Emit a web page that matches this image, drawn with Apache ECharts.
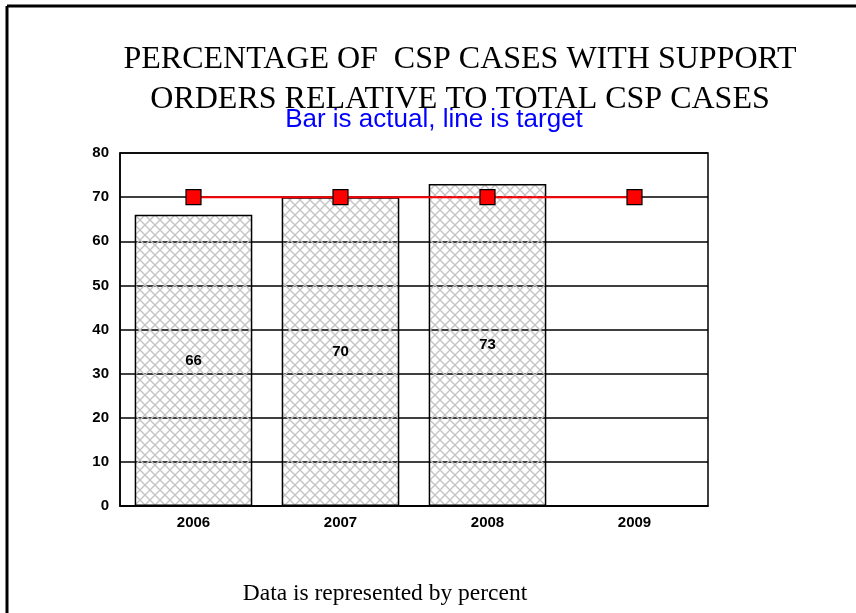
<!DOCTYPE html>
<html>
<head>
<meta charset="utf-8">
<script src="https://cdn.jsdelivr.net/npm/echarts@6/dist/echarts.min.js"></script>
<style>
  html, body { margin: 0; padding: 0; background: #fff; }
  #main { width: 856px; height: 613px; }
</style>
</head>
<body>
<div id="main"></div>
<script>
// data
const years = ['2006', '2007', '2008', '2009'];
const actual = [66, 70, 73, null];
const target = [70, 70, 70, 70];
const yTicks = [0, 10, 20, 30, 40, 50, 60, 70, 80];

// crosshatch fill for the bars (transparent cells, gray diagonals)
const makeHatch = () => {
  const c = document.createElement('canvas');
  c.width = 10;
  c.height = 10;
  const ctx = c.getContext('2d');
  ctx.strokeStyle = '#c4c4c4';
  ctx.lineWidth = 1.4;
  ctx.beginPath();
  ctx.moveTo(-1, -1); ctx.lineTo(11, 11);
  ctx.moveTo(11, -1); ctx.lineTo(-1, 11);
  ctx.stroke();
  return c;
};

const labelFont = {
  color: '#000',
  fontFamily: 'Liberation Sans',
  fontSize: 15,
  fontWeight: 'bold'
};

const myChart = echarts.init(document.getElementById('main'));
const option = {
  backgroundColor: '#fff',
  animation: false,
  title: [
    {
      text: 'PERCENTAGE OF  CSP CASES WITH SUPPORT\nORDERS RELATIVE TO TOTAL CSP CASES',
      left: 455,
      top: 35,
      textAlign: 'center',
      textStyle: {
        fontFamily: 'Liberation Serif',
        fontSize: 32,
        fontWeight: 'normal',
        color: '#000',
        lineHeight: 40
      }
    },
    {
      text: 'Bar is actual, line is target',
      left: 429,
      top: 102,
      textAlign: 'center',
      textStyle: {
        fontFamily: 'Liberation Sans',
        fontSize: 26,
        fontWeight: 'normal',
        color: '#0000ff'
      }
    },
    {
      text: 'Data is represented by percent',
      left: 380,
      top: 577,
      textAlign: 'center',
      textStyle: {
        fontFamily: 'Liberation Serif',
        fontSize: 23.5,
        fontWeight: 'normal',
        color: '#000'
      }
    }
  ],
  graphic: [
    // page frame: top and left edges only
    { type: 'line', shape: { x1: 7, y1: 6, x2: 856, y2: 6 }, style: { stroke: '#000', lineWidth: 3 } },
    { type: 'line', shape: { x1: 7, y1: 6, x2: 7, y2: 613 }, style: { stroke: '#000', lineWidth: 3 } }
  ],
  grid: {
    left: 120,
    right: 148,
    top: 153,
    bottom: 107,
    show: true,
    borderColor: '#000',
    borderWidth: 1.5,
    backgroundColor: '#fff'
  },
  xAxis: {
    type: 'category',
    data: years,
    boundaryGap: true,
    axisTick: { show: false },
    axisLine: { lineStyle: { color: '#000', width: 1.5 } },
    axisLabel: { ...labelFont, margin: 9 }
  },
  yAxis: {
    type: 'value',
    min: yTicks[0],
    max: yTicks[yTicks.length - 1],
    interval: 10,
    axisTick: { show: false },
    axisLine: { show: true, lineStyle: { color: '#000', width: 1.5 } },
    axisLabel: { ...labelFont, margin: 11 },
    splitLine: { lineStyle: { color: '#000', width: 1.5 } }
  },
  series: [
    {
      name: 'Actual',
      type: 'bar',
      data: actual,
      barWidth: '80%',
      itemStyle: {
        color: { image: makeHatch(), repeat: 'repeat' },
        borderColor: '#000',
        borderWidth: 1.5
      },
      label: { show: true, position: 'inside', ...labelFont },
      z: 2
    },
    {
      name: 'Target',
      type: 'line',
      data: target,
      symbol: 'rect',
      symbolSize: 15,
      lineStyle: { color: '#ff0000', width: 2 },
      itemStyle: { color: '#ff0000', borderColor: '#000', borderWidth: 1.2 },
      z: 5
    }
  ]
};
myChart.setOption(option);
</script>
</body>
</html>
